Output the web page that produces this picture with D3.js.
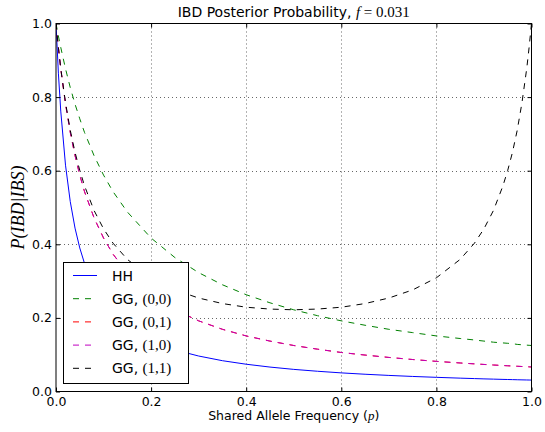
<!DOCTYPE html>
<html><head><meta charset="utf-8">
<script src="https://cdn.jsdelivr.net/npm/d3@7/dist/d3.min.js"></script>
<style>
html,body{margin:0;padding:0;background:#fff;}
svg{display:block;}
text{font-family:"DejaVu Sans",sans-serif;fill:#000;}
.math{font-family:"Liberation Serif","DejaVu Serif",serif;}
</style></head>
<body>
<svg id="chart" width="545" height="432"></svg>
<script>
// shared allele frequency samples
const pValues = [0,0.005,0.01,0.02,0.03,0.04,0.05,0.06,0.08,0.10,0.12,0.15,0.20,0.25,0.30,0.35,0.40,0.45,0.50,0.55,0.60,0.65,0.70,0.75,0.80,0.85,0.88,0.90,0.92,0.94,0.95,0.96,0.97,0.98,0.99,0.995,1.0];
const hh   = [1,0.865,0.762,0.615,0.516,0.444,0.390,0.348,0.286,0.242,0.210,0.176,0.138,0.113,0.0964,0.0837,0.0741,0.0664,0.0601,0.0550,0.0506,0.0469,0.0437,0.0409,0.0385,0.0363,0.0351,0.0343,0.0336,0.0329,0.0326,0.0323,0.0319,0.0316,0.0313,0.0312,0.031];
const gg00 = [1,0.966,0.935,0.877,0.826,0.781,0.741,0.704,0.641,0.588,0.543,0.488,0.417,0.364,0.323,0.290,0.263,0.241,0.222,0.206,0.192,0.180,0.169,0.160,0.151,0.144,0.140,0.137,0.134,0.132,0.131,0.130,0.128,0.127,0.126,0.1255,0.125];
const gg01 = [1,0.935,0.877,0.781,0.704,0.641,0.588,0.543,0.472,0.417,0.373,0.323,0.263,0.222,0.192,0.169,0.151,0.137,0.125,0.115,0.106,0.099,0.0926,0.0869,0.0819,0.0775,0.0751,0.0735,0.0720,0.0706,0.0699,0.0692,0.0686,0.0679,0.0673,0.0670,0.0667];
const gg10 = [1,0.935,0.877,0.781,0.704,0.641,0.588,0.543,0.472,0.417,0.373,0.323,0.263,0.222,0.192,0.169,0.151,0.137,0.125,0.115,0.106,0.099,0.0926,0.0869,0.0819,0.0775,0.0751,0.0735,0.0720,0.0706,0.0699,0.0692,0.0686,0.0679,0.0673,0.0670,0.0667];
const gg11 = [1,0.935,0.878,0.785,0.710,0.650,0.601,0.559,0.492,0.442,0.403,0.359,0.309,0.276,0.254,0.239,0.229,0.224,0.222,0.224,0.229,0.239,0.254,0.276,0.309,0.359,0.403,0.442,0.492,0.559,0.601,0.650,0.710,0.785,0.878,0.935,1];
const xTicks = [0,0.2,0.4,0.6,0.8,1.0];
const yTicks = [0,0.2,0.4,0.6,0.8,1.0];
const seriesNames = ["HH","GG, ","GG, ","GG, ","GG, "];
const seriesMath = ["","(0,0)","(0,1)","(1,0)","(1,1)"];

const series = [
  {vals: hh,   color:"#0000ff", dash:null},
  {vals: gg00, color:"#008000", dash:"6,6"},
  {vals: gg01, color:"#ff0000", dash:"6,6"},
  {vals: gg10, color:"#bf00bf", dash:"6,6"},
  {vals: gg11, color:"#000000", dash:"6,6"}
];

const svg = d3.select("#chart");
const L = 56, R = 531.5, T = 23.5, B = 391.5;
const x = d3.scaleLinear().domain([0,1]).range([L,R]);
const y = d3.scaleLinear().domain([0,1]).range([B,T]);

svg.append("defs").append("clipPath").attr("id","clip")
  .append("rect").attr("x",L).attr("y",T).attr("width",R-L).attr("height",B-T);

// grid
const grid = svg.append("g");
xTicks.slice(1,-1).forEach(t=>{
  grid.append("line").attr("x1",Math.round(x(t))+0.5).attr("x2",Math.round(x(t))+0.5)
    .attr("y1",T).attr("y2",B).attr("stroke","#000").attr("stroke-width",0.6).attr("stroke-dasharray","1,3");
});
yTicks.slice(1,-1).forEach(t=>{
  grid.append("line").attr("y1",Math.round(y(t))+0.5).attr("y2",Math.round(y(t))+0.5)
    .attr("x1",L).attr("x2",R).attr("stroke","#000").attr("stroke-width",0.6).attr("stroke-dasharray","1,3");
});

// curves
const line = d3.line().x((d,i)=>x(pValues[i])).y(d=>y(d));
const plot = svg.append("g").attr("clip-path","url(#clip)");
series.forEach(s=>{
  plot.append("path").datum(s.vals).attr("d",line).attr("fill","none")
    .attr("stroke",s.color).attr("stroke-width",1)
    .attr("stroke-dasharray",s.dash);
});

// axes with inward ticks on all sides
function axisG(axis, tr){ return svg.append("g").attr("transform",tr).call(axis); }
const fmt = d3.format(".1f");
const axB = axisG(d3.axisBottom(x).tickValues(xTicks).tickFormat(fmt).tickSizeInner(-4).tickSizeOuter(0).tickPadding(6), `translate(0,${B})`);
const axT = axisG(d3.axisTop(x).tickValues(xTicks).tickFormat("").tickSizeInner(-4).tickSizeOuter(0), `translate(0,${T})`);
const axL = axisG(d3.axisLeft(y).tickValues(yTicks).tickFormat(fmt).tickSizeInner(-4).tickSizeOuter(0).tickPadding(4), `translate(${L},0)`);
const axR = axisG(d3.axisRight(y).tickValues(yTicks).tickFormat("").tickSizeInner(-4).tickSizeOuter(0), `translate(${R},0)`);
[axB,axT,axL,axR].forEach(g=>{
  g.select(".domain").remove();
  g.selectAll("line").attr("stroke","#000");
  g.selectAll("text").style("font-family",'"DejaVu Sans",sans-serif').style("font-size","12.5px").attr("fill","#000");
});

// frame
svg.append("rect").attr("x",L).attr("y",T).attr("width",R-L).attr("height",B-T)
  .attr("fill","none").attr("stroke","#000").attr("stroke-width",1);

// title
const title = svg.append("text").attr("x",(L+R)/2).attr("y",17).attr("text-anchor","middle").style("font-size","14px");
title.append("tspan").text("IBD Posterior Probability, ");
title.append("tspan").attr("class","math").style("font-style","italic").style("font-size","15px").text("f");
title.append("tspan").attr("class","math").style("font-size","15px").text(" = 0.031");

// x label
const xl = svg.append("text").attr("x",(L+R)/2).attr("y",420).attr("text-anchor","middle").style("font-size","12.5px");
xl.append("tspan").text("Shared Allele Frequency (");
xl.append("tspan").attr("class","math").style("font-style","italic").style("font-size","13px").text("p");
xl.append("tspan").text(")");

// y label
svg.append("text").attr("class","math").attr("transform",`translate(24,${(T+B)/2}) rotate(-90)`)
  .attr("text-anchor","middle").style("font-size","18px").style("font-style","italic").text("P(IBD|IBS)");

// legend
const lg = svg.append("g");
lg.append("rect").attr("x",63.5).attr("y",262.5).attr("width",125).attr("height",121)
  .attr("fill","#fff").attr("stroke","#000").attr("stroke-width",1);
series.forEach((s,i)=>{
  const yy = 275.5 + i*23.2;
  lg.append("line").attr("x1",73).attr("x2",97).attr("y1",yy).attr("y2",yy)
    .attr("stroke",s.color).attr("stroke-width",1).attr("stroke-dasharray",s.dash);
  const t = lg.append("text").attr("x",112).attr("y",yy+5).style("font-size","14px");
  t.append("tspan").text(seriesNames[i]);
  if (seriesMath[i]) t.append("tspan").attr("class","math").style("font-size","15px").text(seriesMath[i]);
});
</script>
</body></html>
